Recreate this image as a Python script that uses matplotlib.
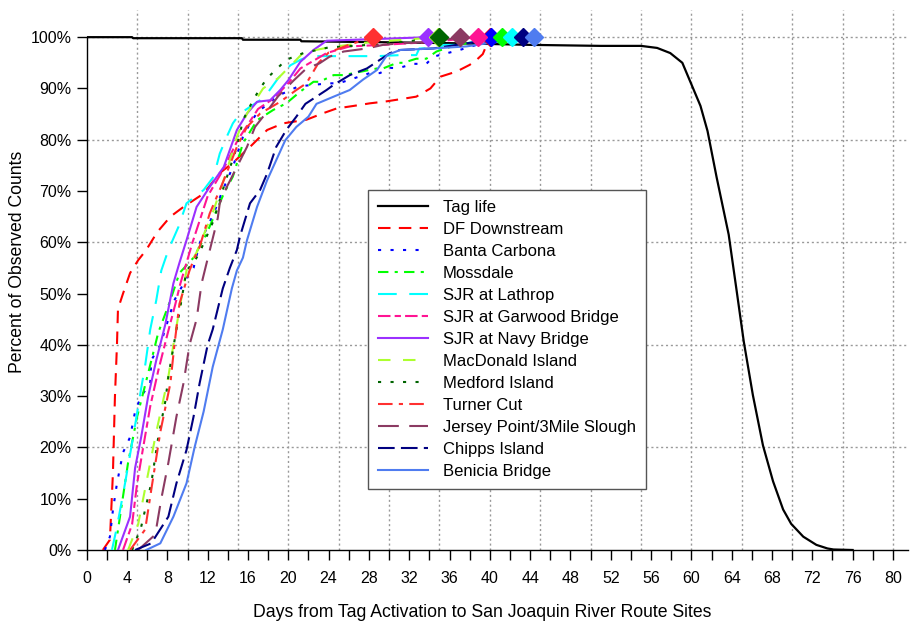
import matplotlib
matplotlib.use("Agg")
import matplotlib.pyplot as plt
from matplotlib.ticker import MultipleLocator, FuncFormatter
import numpy as np

plt.rcParams['font.family'] = ['Liberation Sans', 'DejaVu Sans']

# Tag survival (percent of tags still active) by day since activation
tag_days = [0, 4.5, 4.6, 15.4, 15.5, 21.2, 21.3, 30, 37, 44, 51, 55, 56.6, 57.9, 59.1, 60.0, 60.9,
            61.6, 62.5, 63.7, 64.5, 65.2, 66.1, 67.1, 68.1, 69.1, 69.9, 71.1, 72.4, 73.5, 74.1, 76.0]
tag_pct = [100, 100, 99.8, 99.8, 99.5, 99.5, 99.2, 99.0, 98.8, 98.5, 98.3, 98.3, 97.9, 96.9, 95.0, 90.8,
           86.6, 81.7, 72.7, 61.5, 50.4, 40.6, 30.2, 20.4, 13.4, 7.9, 5.1, 2.6, 1.0, 0.3, 0.1, 0.0]

# Cumulative arrival curves for each detection site (day, percent)
df_x = [1.6, 2.3, 2.6, 2.8, 3.0, 3.1, 3.6, 4.3, 5.1, 5.9, 7.0, 8.3, 9.6, 11.6, 13.2, 14.5, 16.2, 17.9,
        19.5, 21.8, 23.5, 24.8, 26.5, 28.1, 29.8, 31.1, 32.7, 34.1, 35.1, 36.7, 38.0, 38.7, 39.3, 40.0]
df_y = [0, 2, 15, 30, 40, 47, 50, 54, 56.5, 58.5, 62, 65, 66.9, 69.5, 73.5, 75.5, 78.6, 81.9,
        83.2, 83.9, 85.2, 86.1, 86.6, 87.1, 87.5, 87.9, 88.4, 90, 92.3, 93.3, 94.6, 95.6, 96.7, 100]

bc_x = [1.8, 2.3, 2.6, 3.0, 3.6, 4.3, 4.8, 5.4, 6.3, 6.4, 7.3, 8.1, 8.7, 9.9, 10.6, 11.2, 12.6, 13.5,
        14.5, 15.5, 16.2, 17.0, 18.0, 19.0, 21.0, 24.0, 25.0, 28.1, 29.1, 30.1, 31.0, 32.4, 33.7, 34.4,
        37.0, 39.7, 40.1]
bc_y = [0, 2.6, 7.8, 13, 19, 22, 27, 30, 32.5, 37, 40, 45, 48.7, 53, 55, 59.8, 65.6, 70.2,
        74.7, 80.6, 83.2, 85.5, 87, 88.6, 90.4, 91, 91, 93, 93, 94, 94, 94.8, 94.8, 96.2,
        97.5, 99.1, 100]

md_x = [2.8, 3.3, 4.1, 5.0, 6.1, 7.1, 8.3, 9.2, 10.6, 11.9, 12.9, 13.6, 14.5, 15.5, 16.9, 18.5, 19.8,
        21.2, 22.5, 23.1, 24.5, 25.5, 28.8, 29.4, 30.8, 31.4, 32.7, 33.7, 34.7, 36.7, 38.7, 41.2]
md_y = [0, 6.5, 17, 26, 34.5, 42.4, 48.7, 54, 57, 61.7, 66.3, 69.5, 72.8, 79.3, 83.8, 85.8, 87.1,
        89.4, 91.3, 91.3, 92.6, 92.6, 93.9, 93.9, 95, 95, 95.8, 95.8, 97.2, 98.5, 99.1, 100]

lt_x = [2.5, 3.0, 3.8, 4.6, 5.4, 5.8, 6.3, 6.9, 7.4, 8.1, 9.1, 9.9, 11.6, 12.6, 13.2, 13.9, 14.5, 15.2,
        16.2, 17.2, 17.9, 19.0, 20.2, 21.2, 22.2, 28.8, 31.1, 32.7, 33.0, 35.0, 35.4, 37.0, 38.4, 42.2]
lt_y = [0, 4.5, 13, 22, 31.5, 36, 43, 48.7, 54.5, 58.5, 63, 67.6, 70.2, 72.8, 77.3, 80.6, 83.2, 85.1,
        86.4, 87.7, 89, 92, 94.5, 95.6, 96.3, 96.3, 96.5, 96.5, 97.8, 97.8, 98.5, 98.5, 99.1, 100]

gw_x = [3.6, 4.5, 5.0, 5.6, 6.3, 7.1, 8.0, 8.8, 9.3, 10.5, 12.0, 13.5, 15.0, 16.0, 17.0, 18.5, 20.0,
        21.2, 23.8, 26.1, 29.4, 34.4, 38.8]
gw_y = [0, 5, 13, 20, 28, 35, 42, 48, 52, 60, 69, 74, 80, 83, 86, 88, 91,
        93.9, 96.9, 98.2, 98.5, 99.1, 100]

nb_x = [3.1, 4.3, 4.8, 5.4, 6.1, 6.9, 7.8, 8.6, 9.2, 9.9, 10.9, 12.2, 13.6, 14.9, 15.9, 16.9, 18.2,
        19.2, 20.0, 21.2, 22.5, 23.8, 33.9]
nb_y = [0, 6.5, 16, 22, 30, 37, 44, 52, 56, 60.4, 66.9, 70.8, 74.7, 81.9, 85.1, 87.4, 87.7,
        89.7, 91.6, 95.2, 97.5, 99.3, 100]

mi_x = [4.1, 5.1, 5.9, 6.9, 8.1, 8.6, 9.2, 9.9, 10.6, 10.9, 12.6, 13.9, 14.9, 15.9, 17.5, 19.0, 20.5,
        21.5, 24.0, 28.0, 34.9]
mi_y = [0, 5, 13, 23, 33.8, 40, 47, 54.5, 57, 58, 66.3, 74, 80.6, 85.1, 90, 92, 95,
        97, 98, 99, 100]

mf_x = [4.5, 5.4, 6.4, 7.1, 7.8, 8.1, 8.7, 9.4, 9.9, 10.6, 11.2, 12.6, 13.7, 14.9, 15.5, 16.5, 17.2,
        17.9, 19.8, 21.5, 24.0, 28.0, 32.0, 35.0]
mf_y = [0, 4.5, 13, 22, 29, 33.8, 40.7, 48.7, 54.5, 56, 58, 64.3, 71.5, 78.6, 83.8, 87.7, 90,
        92, 95.6, 96.9, 98, 98.5, 99.2, 100]

tc_x = [4.3, 5.8, 6.4, 7.3, 8.3, 8.7, 9.2, 10.2, 10.7, 11.2, 12.2, 13.6, 14.9, 15.9, 17.2, 19.2, 20.8,
        21.8, 23.0, 24.0, 26.0, 28.4]
tc_y = [0, 4, 11.7, 23, 32.5, 40, 48, 54.5, 57, 59.1, 65.6, 72.1, 78.6, 82.5, 85.1, 87.4, 89.7,
        91, 95, 97, 98.5, 100]

jp_x = [5.1, 6.8, 7.4, 8.1, 8.9, 9.6, 10.2, 10.9, 11.4, 11.9, 13.0, 13.2, 13.9, 14.9, 15.9, 16.7, 17.5,
        19.0, 20.5, 21.8, 23.1, 24.1, 25.5, 27.8, 29.4, 31.1, 34.4, 37.0]
jp_y = [0, 3, 10, 17, 26, 32.5, 40, 45, 52, 56, 64.7, 67.6, 70.8, 74.7, 78.6, 82.5, 84.5,
        88.5, 91.5, 93.9, 94.9, 96.2, 97.2, 97.8, 98.5, 98.8, 99.1, 100]

ci_x = [4.8, 6.4, 8.1, 8.9, 9.9, 10.6, 11.2, 12.0, 12.5, 13.5, 14.2, 14.9, 15.2, 16.2, 17.2, 17.9, 18.8,
        19.8, 20.8, 21.7, 23.8, 24.5, 26.1, 27.8, 28.8, 30.1, 31.1, 34.4, 37.7, 39.7, 43.3]
ci_y = [0, 1.3, 6.5, 13, 19.5, 26, 32.5, 40, 43, 51, 55, 58.5, 61.1, 67.6, 70.2, 73.4, 78.6,
        81.9, 84.5, 87, 89.7, 90.7, 92.6, 93.9, 95.2, 96.9, 97.5, 97.8, 98.8, 99.4, 100]

bb_x = [5.9, 7.3, 8.6, 9.9, 10.7, 11.6, 12.5, 13.5, 14.4, 14.9, 15.5, 15.9, 16.9, 17.9, 18.8, 19.7, 20.8,
        22.0, 22.8, 24.5, 26.1, 27.4, 28.8, 29.8, 31.1, 34.4, 37.7, 39.7, 44.4]
bb_y = [0, 1.3, 6.5, 13, 20, 27, 35.7, 43, 51, 54.5, 57, 60.4, 66.9, 72.1, 76, 79.9, 82.5,
        84.5, 87, 88.4, 89.7, 91.7, 93.6, 96.5, 97.5, 97.8, 98.2, 98.8, 100]

site_names = ["DF Downstream", "Banta Carbona", "Mossdale", "SJR at Lathrop", "SJR at Garwood Bridge",
              "SJR at Navy Bridge", "MacDonald Island", "Medford Island", "Turner Cut",
              "Jersey Point/3Mile Slough", "Chipps Island", "Benicia Bridge"]
site_data = [(df_x, df_y), (bc_x, bc_y), (md_x, md_y), (lt_x, lt_y), (gw_x, gw_y), (nb_x, nb_y),
             (mi_x, mi_y), (mf_x, mf_y), (tc_x, tc_y), (jp_x, jp_y), (ci_x, ci_y), (bb_x, bb_y)]
site_colors = ["#FF0000", "#0000FF", "#00FF00", "#00FFFF", "#FF1493", "#9B30FF",
               "#ADFF2F", "#006400", "#FF3030", "#8B3A62", "#000080", "#4F7CF0"]
site_dashes = [(0, (6, 4)), (0, (1.5, 4.5)), (0, (5, 3, 1.5, 3)), (0, (9, 6)), (0, (6, 2, 3, 2)), "-",
               (0, (6, 6)), (0, (1.5, 4.5)), (0, (7, 3, 2, 3)), (0, (10, 5)), (0, (8, 3)), "-"]

fig = plt.figure(figsize=(9.12, 6.28), dpi=100)
ax = fig.add_axes([0.0951, 0.1242, 0.9006, 0.8599])

ax.set_xlim(0, 81.5)
ax.set_ylim(0, 105.3)

# dotted reference grid
for gx in np.arange(5, 85, 5):
    ax.axvline(gx, color="#999999", lw=1.0, ls=(0, (1.5, 2)), zorder=0)
for gy in np.arange(20, 101, 20):
    ax.axhline(gy, color="#999999", lw=1.0, ls=(0, (1.5, 2)), zorder=0)

ax.plot(tag_days, tag_pct, color="black", lw=1.6, label="Tag life", zorder=3)

for name, (xs, ys), col, ls in zip(site_names, site_data, site_colors, site_dashes):
    ax.plot(xs, ys, color=col, ls=ls, lw=1.5, label=name, zorder=4)

# final detection day of each site marked on the 100% line
for (xs, ys), col in zip(site_data, site_colors):
    ax.plot([xs[-1]], [ys[-1]], marker="D", ms=9.5, color=col, mec=col, clip_on=False, zorder=6)

ax.spines["top"].set_visible(False)
ax.spines["right"].set_visible(False)
ax.spines["left"].set_bounds(0, 100)
ax.spines["left"].set_linewidth(1.0)
ax.spines["bottom"].set_linewidth(1.0)

ax.xaxis.set_major_locator(MultipleLocator(4))
ax.xaxis.set_minor_locator(MultipleLocator(2))
ax.set_yticks(np.arange(0, 101, 10))
ax.yaxis.set_major_formatter(FuncFormatter(lambda v, p: f"{int(round(v))}%"))
ax.tick_params(axis="both", which="both", direction="out", length=7, width=1.0, labelsize=11.5,
               colors="black")
ax.tick_params(axis="x", which="major", pad=8)
ax.tick_params(axis="y", which="major", pad=4)

ax.set_xlabel("Days from Tag Activation to San Joaquin River Route Sites", fontsize=12.7)
ax.set_ylabel("Percent of Observed Counts", fontsize=12.7)
ax.xaxis.set_label_coords(0.481, -0.1)
ax.yaxis.set_label_coords(-0.074, 0.533)

leg = ax.legend(loc="upper left", bbox_to_anchor=(0.3424, 0.6667), borderaxespad=0, fontsize=12,
                frameon=True, fancybox=False, edgecolor="#555555", framealpha=1,
                handlelength=3.0, handletextpad=0.9, labelspacing=0.42, borderpad=0.6)
leg.get_frame().set_linewidth(1.0)

fig.savefig("out.png", dpi=100)
